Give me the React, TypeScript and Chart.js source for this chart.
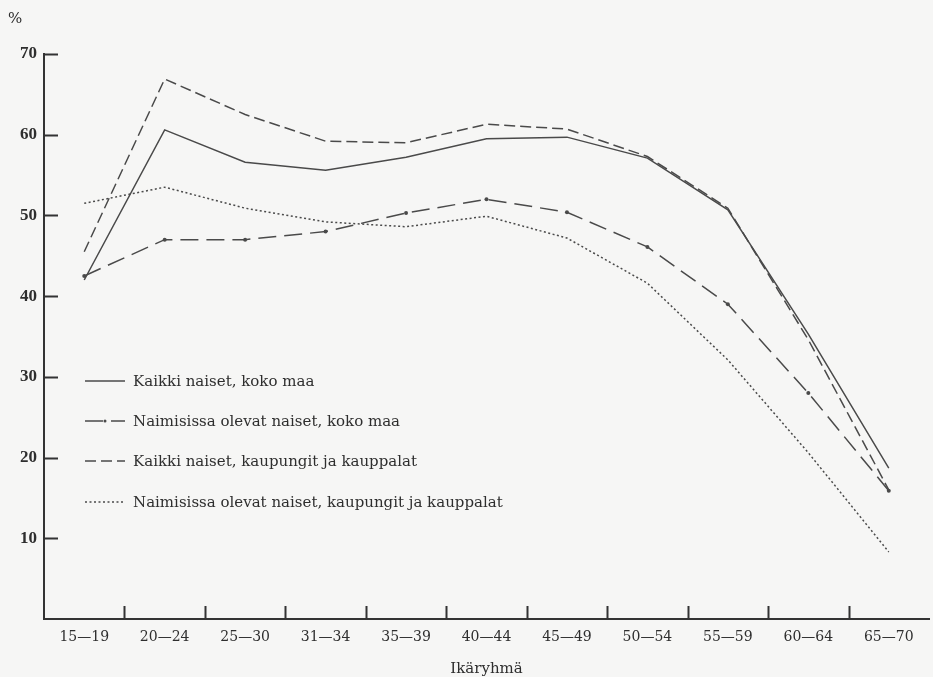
import React, { useEffect, useRef } from "react";
import { Chart, registerables } from "chart.js";

Chart.register(...registerables);

const categories = ["15—19", "20—24", "25—30", "31—34", "35—39", "40—44", "45—49", "50—54", "55—59", "60—64", "65—70"];
const seriesLabels = [
  "Kaikki naiset, koko maa",
  "Naimisissa olevat naiset, koko maa",
  "Kaikki naiset, kaupungit ja kauppalat",
  "Naimisissa olevat naiset, kaupungit ja kauppalat",
];
const allWomenCountry = [42.0, 60.6, 56.6, 55.6, 57.2, 59.5, 59.7, 57.1, 50.7, 35.3, 18.7];
const marriedCountry = [42.5, 47.0, 47.0, 48.0, 50.3, 52.0, 50.4, 46.1, 39.0, 28.0, 15.9];
const allWomenTowns = [45.5, 66.9, 62.5, 59.2, 59.0, 61.3, 60.7, 57.3, 50.9, 34.6, 16.0];
const marriedTowns = [51.5, 53.5, 50.9, 49.2, 48.6, 49.9, 47.2, 41.6, 32.1, 20.6, 8.3];
const yTicks = [10, 20, 30, 40, 50, 60, 70];
const yUnit = "%";
const xTitle = "Ikäryhmä";

const LINE = "#4a4a4a";
const AXIS = "#333333";
const TEXT = "#2e2e2e";
const SERIF = "'DejaVu Serif', serif";

const styles = [
  { dash: [] as number[], point: 0 },
  { dash: [18, 8], point: 2 },
  { dash: [11, 5], point: 0 },
  { dash: [2, 2.5], point: 0 },
];

const decorPlugin = {
  id: "decor",
  beforeDraw(chart: any) {
    const ctx = chart.ctx;
    ctx.save();
    ctx.fillStyle = "#f6f6f5";
    ctx.fillRect(0, 0, chart.width, chart.height);
    ctx.restore();
  },
  afterDraw(chart: any) {
    const ctx = chart.ctx;
    const area = chart.chartArea;
    const xs = chart.scales.x;
    const ys = chart.scales.y;
    ctx.save();
    ctx.strokeStyle = AXIS;
    ctx.lineWidth = 2;
    ctx.setLineDash([]);
    // inward y ticks
    yTicks.forEach((v) => {
      const y = Math.round(ys.getPixelForValue(v)) + 0.5;
      ctx.beginPath();
      ctx.moveTo(area.left - 1, y);
      ctx.lineTo(area.left + 14, y);
      ctx.stroke();
    });
    // inward x ticks at category boundaries
    for (let i = 0; i < categories.length - 1; i++) {
      const x = Math.round((xs.getPixelForValue(i) + xs.getPixelForValue(i + 1)) / 2) + 0.5;
      ctx.beginPath();
      ctx.moveTo(x, area.bottom);
      ctx.lineTo(x, area.bottom - 13);
      ctx.stroke();
    }
    // unit and axis title
    ctx.fillStyle = TEXT;
    ctx.font = "15px " + SERIF;
    ctx.textAlign = "left";
    ctx.textBaseline = "middle";
    ctx.fillText(yUnit, 8, 19);
    ctx.textAlign = "center";
    ctx.fillText(xTitle, (area.left + area.right) / 2, 669);
    // legend inside plot
    const rows = [381, 421, 461, 502];
    chart.data.datasets.forEach((ds: any, i: number) => {
      const y = rows[i];
      ctx.strokeStyle = LINE;
      ctx.lineWidth = 1.5;
      ctx.setLineDash(styles[i].dash);
      ctx.beginPath();
      ctx.moveTo(85, y);
      ctx.lineTo(125, y);
      ctx.stroke();
      ctx.setLineDash([]);
      if (styles[i].point > 0) {
        ctx.fillStyle = LINE;
        ctx.beginPath();
        ctx.arc(105, y, 1.5, 0, Math.PI * 2);
        ctx.fill();
      }
      ctx.fillStyle = TEXT;
      ctx.font = "15px " + SERIF;
      ctx.textAlign = "left";
      ctx.textBaseline = "middle";
      ctx.fillText(ds.label, 133, y + 1);
    });
    ctx.restore();
  },
};

export default function App() {
  const ref = useRef<HTMLCanvasElement | null>(null);
  useEffect(() => {
    if (!ref.current) return;
    const series = [allWomenCountry, marriedCountry, allWomenTowns, marriedTowns];
    const chart = new Chart(ref.current, {
      type: "line",
      data: {
        labels: categories,
        datasets: series.map((d, i) => ({
          label: seriesLabels[i],
          data: d,
          borderColor: LINE,
          backgroundColor: LINE,
          borderWidth: 1.5,
          borderDash: styles[i].dash,
          pointRadius: styles[i].point,
          pointBorderWidth: 0,
          pointBackgroundColor: LINE,
          tension: 0,
          fill: false,
        })),
      },
      options: {
        responsive: false,
        animation: false,
        events: [],
        layout: { padding: { top: 54, left: 0, right: 0, bottom: 0 } },
        plugins: { legend: { display: false }, tooltip: { enabled: false } },
        scales: {
          x: {
            type: "category",
            offset: true,
            grid: { display: false, drawTicks: false, offset: true },
            border: { display: true, color: AXIS, width: 2 },
            ticks: {
              color: TEXT,
              font: { family: SERIF, size: 14 },
              padding: 10,
              maxRotation: 0,
              autoSkip: false,
            },
            afterFit(scale: any) {
              scale.height = 58;
            },
          },
          y: {
            min: 0,
            max: 70,
            grid: { display: false, drawTicks: false },
            border: { display: true, color: AXIS, width: 2 },
            ticks: {
              stepSize: 10,
              color: TEXT,
              font: { family: "'Liberation Serif', serif", size: 17, weight: "bold" },
              padding: 7,
              callback: (v: any) => (yTicks.includes(Number(v)) ? String(v) : ""),
            },
            afterFit(scale: any) {
              scale.width = 44;
            },
          },
        },
      },
      plugins: [decorPlugin],
    });
    return () => chart.destroy();
  }, []);
  return (
    <div style={{ position: "absolute", left: 0, top: 0, width: 933, height: 677, overflow: "hidden" }}>
      <canvas ref={ref} width={933} height={677} style={{ display: "block", width: 933, height: 677 }} />
    </div>
  );
}
